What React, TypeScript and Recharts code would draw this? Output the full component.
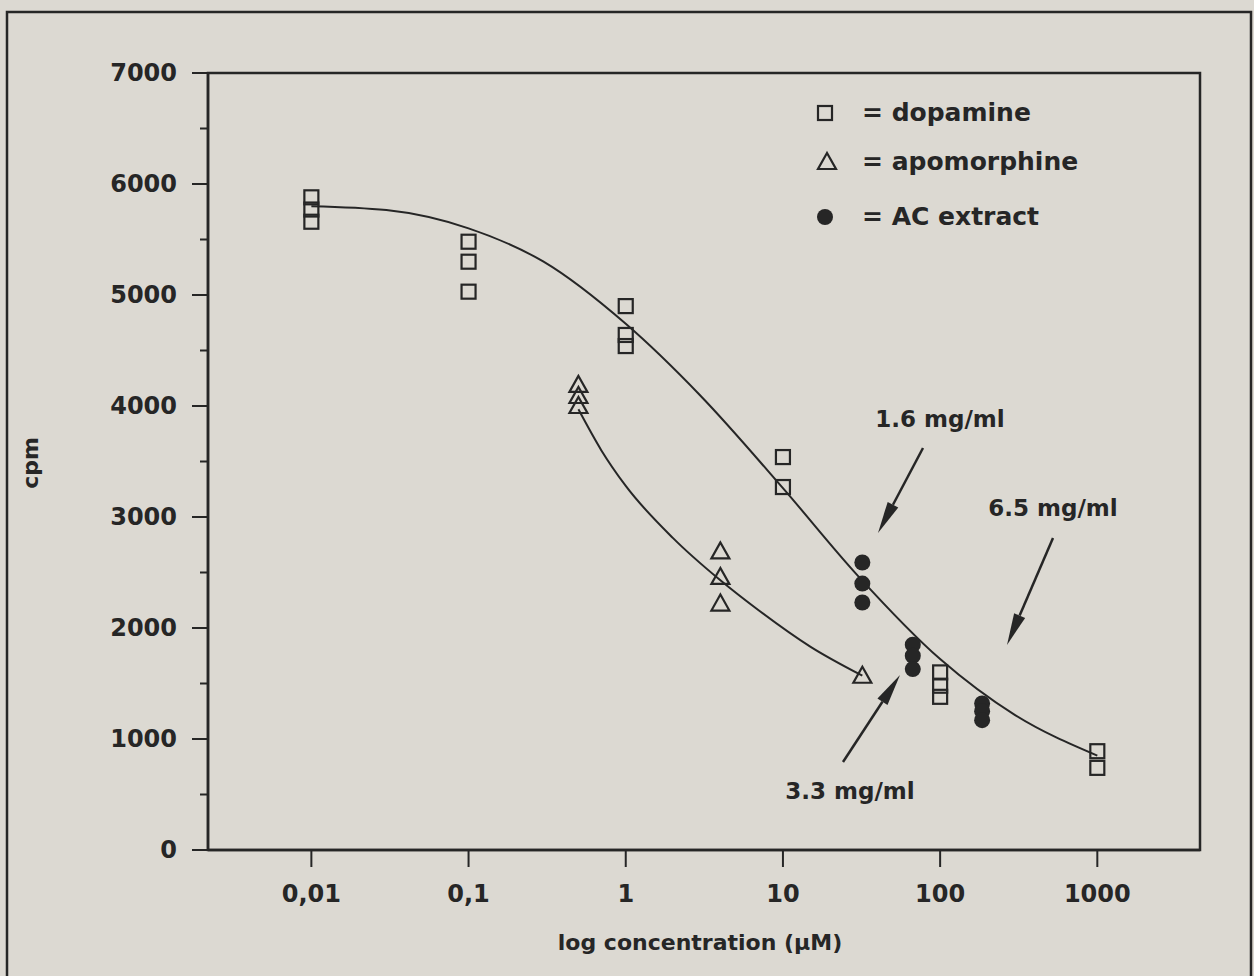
import { ComposedChart, Scatter, Line, XAxis, YAxis } from 'recharts';

// axis ticks
const xTicks = [0.01, 0.1, 1, 10, 100, 1000];
const yTicks = [0, 500, 1000, 1500, 2000, 2500, 3000, 3500, 4000, 4500, 5000, 5500, 6000, 6500, 7000];

// measured points (concentration in µM, cpm)
const dopaminePoints = [
  { x: 0.01, y: 5880 }, { x: 0.01, y: 5770 }, { x: 0.01, y: 5660 },
  { x: 0.1, y: 5480 }, { x: 0.1, y: 5300 }, { x: 0.1, y: 5030 },
  { x: 1, y: 4900 }, { x: 1, y: 4640 }, { x: 1, y: 4540 },
  { x: 10, y: 3540 }, { x: 10, y: 3270 },
  { x: 100, y: 1600 }, { x: 100, y: 1480 }, { x: 100, y: 1380 },
  { x: 1000, y: 890 }, { x: 1000, y: 740 },
];

const apomorphinePoints = [
  { x: 0.5, y: 4190 }, { x: 0.5, y: 4090 }, { x: 0.5, y: 4000 },
  { x: 4, y: 2690 }, { x: 4, y: 2460 }, { x: 4, y: 2220 },
  { x: 32, y: 1570 },
];

const acExtractPoints = [
  { x: 32, y: 2590 }, { x: 32, y: 2400 }, { x: 32, y: 2230 },
  { x: 67, y: 1850 }, { x: 67, y: 1750 }, { x: 67, y: 1630 },
  { x: 185, y: 1320 }, { x: 185, y: 1250 }, { x: 185, y: 1170 },
];

// fitted curves
const dopamineFit = [
  { x: 0.01, y: 5800 }, { x: 0.03, y: 5765 }, { x: 0.1, y: 5600 }, { x: 0.3, y: 5300 },
  { x: 1, y: 4740 }, { x: 3, y: 4090 }, { x: 10, y: 3260 }, { x: 30, y: 2470 },
  { x: 100, y: 1720 }, { x: 300, y: 1215 }, { x: 1000, y: 850 },
];

const apomorphineFit = [
  { x: 0.5, y: 3970 }, { x: 0.7, y: 3600 }, { x: 1, y: 3280 }, { x: 2, y: 2810 },
  { x: 4, y: 2430 }, { x: 7, y: 2160 }, { x: 15, y: 1830 }, { x: 32, y: 1570 },
];

const INK = '#262626';
const PAPER = '#dcd9d2';
const FONT = '"DejaVu Sans", Arial, sans-serif';

const W = 1254;
const H = 976;
const PLOT = { left: 208, top: 73, right: 1200, bottom: 850 };

const formatX = (v: number) => String(v).replace('.', ',');

const YTick = (props: any) => {
  const { x, y, payload } = props;
  const major = payload.value % 1000 === 0;
  return (
    <g>
      <line x1={x - (major ? 16 : 8)} x2={x} y1={y} y2={y} stroke={INK} strokeWidth={2} />
      {major && (
        <text x={x - 31} y={y + 8} textAnchor="end" fontFamily={FONT} fontWeight="bold" fontSize={24} fill={INK}>
          {payload.value}
        </text>
      )}
    </g>
  );
};

const XTick = (props: any) => {
  const { x, y, payload } = props;
  return (
    <g>
      <line x1={x} x2={x} y1={y} y2={y + 17} stroke={INK} strokeWidth={2} />
      <text x={x} y={y + 52} textAnchor="middle" fontFamily={FONT} fontWeight="bold" fontSize={24} fill={INK}>
        {formatX(payload.value)}
      </text>
    </g>
  );
};

const SquareMark = (p: any) => (
  <rect x={p.cx - 7} y={p.cy - 7} width={14} height={14} fill="none" stroke={INK} strokeWidth={2.2} />
);

const TriangleMark = (p: any) => (
  <polygon
    points={`${p.cx},${p.cy - 9} ${p.cx - 9},${p.cy + 7} ${p.cx + 9},${p.cy + 7}`}
    fill="none"
    stroke={INK}
    strokeWidth={2.2}
  />
);

const CircleMark = (p: any) => <circle cx={p.cx} cy={p.cy} r={8} fill={INK} />;

function Arrow({ from, to }: { from: [number, number]; to: [number, number] }) {
  const dx = to[0] - from[0];
  const dy = to[1] - from[1];
  const len = Math.sqrt(dx * dx + dy * dy);
  const ux = dx / len;
  const uy = dy / len;
  const headLen = 32;
  const headW = 6;
  const bx = to[0] - ux * headLen;
  const by = to[1] - uy * headLen;
  return (
    <g>
      <line x1={from[0]} y1={from[1]} x2={bx} y2={by} stroke={INK} strokeWidth={2.5} />
      <polygon
        points={`${to[0]},${to[1]} ${bx - uy * headW},${by + ux * headW} ${bx + uy * headW},${by - ux * headW}`}
        fill={INK}
      />
    </g>
  );
}

const textStyle = { fontFamily: FONT, fontWeight: 'bold' as const, fill: INK };

export default function App() {
  return (
    <div style={{ position: 'fixed', left: 0, top: 0, width: W, height: H, background: PAPER }}>
      <ComposedChart
        width={W}
        height={H}
        margin={{ top: PLOT.top, right: W - PLOT.right, bottom: 0, left: 0 }}
      >
        <XAxis
          dataKey="x"
          type="number"
          scale="log"
          domain={[0.0022, 4500]}
          allowDataOverflow
          ticks={xTicks}
          height={H - PLOT.bottom}
          tickSize={0}
          tickMargin={0}
          tickLine={false}
          tick={<XTick />}
          axisLine={{ stroke: INK, strokeWidth: 2.5 }}
        />
        <YAxis
          dataKey="y"
          type="number"
          domain={[0, 7000]}
          ticks={yTicks}
          interval={0}
          width={PLOT.left}
          tickSize={0}
          tickMargin={0}
          tickLine={false}
          tick={<YTick />}
          axisLine={{ stroke: INK, strokeWidth: 2.5 }}
        />
        <Line
          data={dopamineFit}
          dataKey="y"
          type="monotone"
          dot={false}
          stroke={INK}
          strokeWidth={2}
          isAnimationActive={false}
        />
        <Line
          data={apomorphineFit}
          dataKey="y"
          type="monotone"
          dot={false}
          stroke={INK}
          strokeWidth={2}
          isAnimationActive={false}
        />
        <Scatter data={dopaminePoints} shape={SquareMark} isAnimationActive={false} />
        <Scatter data={apomorphinePoints} shape={TriangleMark} isAnimationActive={false} />
        <Scatter data={acExtractPoints} shape={CircleMark} isAnimationActive={false} />
      </ComposedChart>

      <svg width={W} height={H} style={{ position: 'absolute', left: 0, top: 0, pointerEvents: 'none' }}>
        {/* page border and plot frame */}
        <rect x={7} y={12} width={1244} height={1000} fill="none" stroke={INK} strokeWidth={2.5} />
        <rect
          x={PLOT.left}
          y={PLOT.top}
          width={PLOT.right - PLOT.left}
          height={PLOT.bottom - PLOT.top}
          fill="none"
          stroke={INK}
          strokeWidth={2.5}
        />

        <text x={30} y={463} transform="rotate(-90 30 463)" textAnchor="middle" dominantBaseline="central" fontSize={22} {...textStyle}>
          cpm
        </text>
        <text x={700} y={950} textAnchor="middle" fontSize={22} {...textStyle}>
          log concentration (µM)
        </text>

        {/* legend */}
        <rect x={818} y={106} width={14} height={14} fill="none" stroke={INK} strokeWidth={2.2} />
        <text x={862} y={121} fontSize={25} {...textStyle}>= dopamine</text>
        <polygon points="827,153 818,169 836,169" fill="none" stroke={INK} strokeWidth={2.2} />
        <text x={862} y={170} fontSize={25} {...textStyle}>= apomorphine</text>
        <circle cx={825} cy={217} r={8} fill={INK} />
        <text x={862} y={225} fontSize={25} {...textStyle}>= AC extract</text>

        {/* annotations */}
        <text x={940} y={427} textAnchor="middle" fontSize={23} {...textStyle}>1.6 mg/ml</text>
        <Arrow from={[923, 448]} to={[878, 533]} />
        <text x={1053} y={516} textAnchor="middle" fontSize={23} {...textStyle}>6.5 mg/ml</text>
        <Arrow from={[1053, 538]} to={[1007, 645]} />
        <text x={850} y={799} textAnchor="middle" fontSize={23} {...textStyle}>3.3 mg/ml</text>
        <Arrow from={[843, 762]} to={[900, 675]} />
      </svg>
    </div>
  );
}
